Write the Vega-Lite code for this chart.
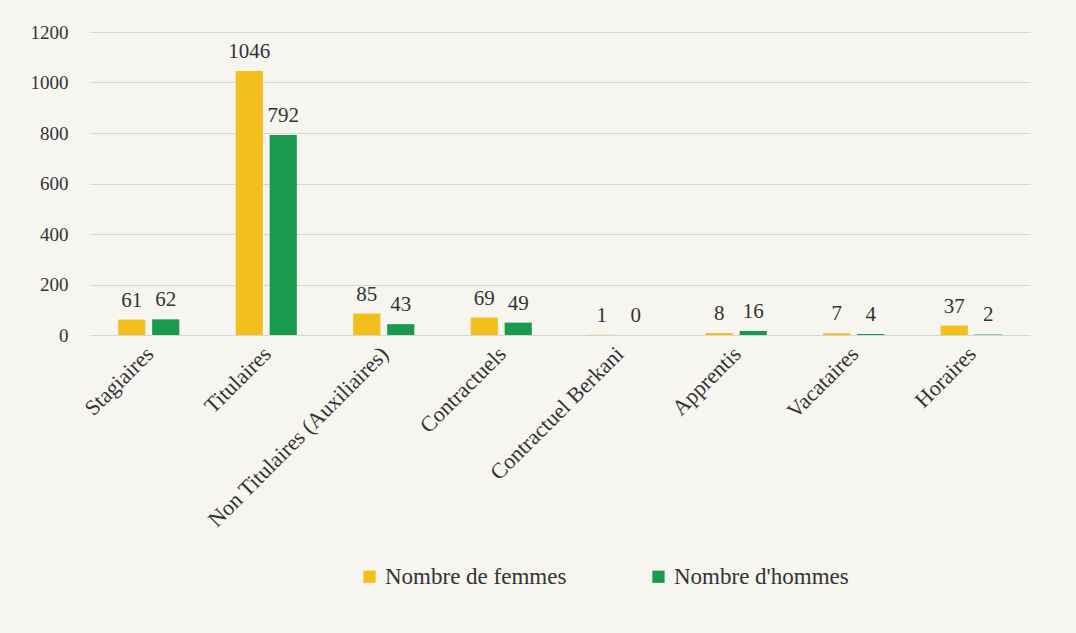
{
  "$schema": "https://vega.github.io/schema/vega-lite/v6.json",
  "width": 940,
  "height": 303,
  "autosize": {"type": "none"},
  "padding": {"left": 90, "top": 32, "right": 46, "bottom": 298},
  "background": "#f6f5f0",
  "config": {"view": {"stroke": null}},
  "data": {
    "values": [
      {"cat": "Stagiaires", "serie": "Nombre de femmes", "v": 61},
      {"cat": "Stagiaires", "serie": "Nombre d'hommes", "v": 62},
      {"cat": "Titulaires", "serie": "Nombre de femmes", "v": 1046},
      {"cat": "Titulaires", "serie": "Nombre d'hommes", "v": 792},
      {"cat": "Non Titulaires (Auxiliaires)", "serie": "Nombre de femmes", "v": 85},
      {"cat": "Non Titulaires (Auxiliaires)", "serie": "Nombre d'hommes", "v": 43},
      {"cat": "Contractuels", "serie": "Nombre de femmes", "v": 69},
      {"cat": "Contractuels", "serie": "Nombre d'hommes", "v": 49},
      {"cat": "Contractuel Berkani", "serie": "Nombre de femmes", "v": 1},
      {"cat": "Contractuel Berkani", "serie": "Nombre d'hommes", "v": 0},
      {"cat": "Apprentis", "serie": "Nombre de femmes", "v": 8},
      {"cat": "Apprentis", "serie": "Nombre d'hommes", "v": 16},
      {"cat": "Vacataires", "serie": "Nombre de femmes", "v": 7},
      {"cat": "Vacataires", "serie": "Nombre d'hommes", "v": 4},
      {"cat": "Horaires", "serie": "Nombre de femmes", "v": 37},
      {"cat": "Horaires", "serie": "Nombre d'hommes", "v": 2}
    ]
  },
  "encoding": {
    "x": {
      "field": "cat", "type": "nominal", "sort": null,
      "scale": {"paddingInner": 0.48, "paddingOuter": 0.24},
      "axis": {
        "title": null, "labelAngle": -45, "labelFont": "Liberation Serif", "labelFontSize": 22,
        "labelColor": "#333333", "ticks": false, "domain": false, "labelPadding": 8, "labelOffset": -6, "labelLimit": 400
      }
    },
    "xOffset": {"field": "serie", "type": "nominal", "sort": ["Nombre de femmes", "Nombre d'hommes"], "scale": {"paddingInner": 0.2}},
    "y": {
      "field": "v", "type": "quantitative",
      "scale": {"domain": [0, 1200]},
      "axis": {
        "title": null, "values": [0, 200, 400, 600, 800, 1000, 1200], "format": "d", "labelFont": "Liberation Serif",
        "labelFontSize": 19, "labelColor": "#333333", "ticks": false, "domain": false,
        "gridColor": "#d6d6d0", "gridWidth": 1.2, "labelPadding": 22
      }
    },
    "color": {
      "field": "serie", "type": "nominal",
      "scale": {"domain": ["Nombre de femmes", "Nombre d'hommes"], "range": ["#f2bf1d", "#199a4f"]},
      "legend": {
        "title": null, "orient": "none", "direction": "horizontal", "legendX": 268, "legendY": 533,
        "symbolType": "square", "symbolSize": 150, "symbolOpacity": 1, "labelFont": "Liberation Serif",
        "labelFontSize": 23, "labelColor": "#333333", "columnPadding": 80, "labelOffset": 4, "labelLimit": 400
      }
    }
  },
  "layer": [
    {"mark": {"type": "bar"}},
    {
      "mark": {"type": "text", "baseline": "bottom", "dy": -9, "font": "Liberation Serif", "fontSize": 21, "color": "#333333"},
      "encoding": {"text": {"field": "v", "type": "quantitative"}, "color": {"value": "#333333"}}
    }
  ]
}
